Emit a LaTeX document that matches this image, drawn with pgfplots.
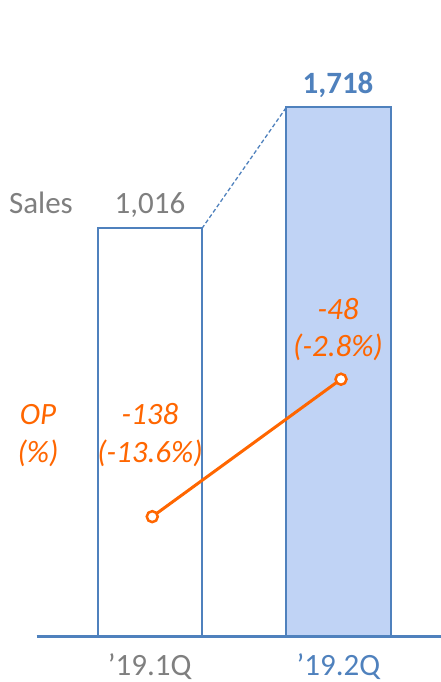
\documentclass[border=0pt]{standalone}
\usepackage{fontspec}
\setmainfont{Carlito}
\usepackage{pgfplots}
\pgfplotsset{compat=1.18}
\definecolor{barblue}{RGB}{79,129,189}
\definecolor{barfill}{RGB}{192,211,245}
\definecolor{txtgray}{RGB}{127,127,127}
\definecolor{opor}{RGB}{255,102,0}
\newcommand{\bigfs}{\fontsize{31bp}{37bp}\selectfont}
\begin{document}
\begin{tikzpicture}
\path[use as bounding box] (0,0) rectangle (441bp,682bp);
% Sales bars
\begin{axis}[
  scale only axis, width=404.3bp, height=636.5bp,
  at={(36.7bp,45.5bp)}, anchor=south west,
  xmin=-0.599, xmax=1.543, ymin=-1351, ymax=2341,
  axis x line*=bottom, axis y line=none,
  x axis line style={draw=barblue, line width=3bp},
  xtick={0,1}, major tick length=0pt,
  xticklabels={\textcolor{txtgray}{’19.1Q}, \textcolor{barblue}{’19.2Q}},
  xticklabel style={font=\bigfs, anchor=base, yshift=-38.5bp, inner sep=0pt},
  clip=false,
]
\addplot[draw=barblue, line width=2bp, fill=white] coordinates {(-0.2766,-1351) (-0.2766,1016) (0.2766,1016) (0.2766,-1351)} -- cycle;
\addplot[draw=barblue, line width=2bp, fill=barfill] coordinates {(0.7234,-1351) (0.7234,1718) (1.2766,1718) (1.2766,-1351)} -- cycle;
\addplot[draw=barblue, line width=1.3bp, dash pattern=on 4bp off 2.5bp] coordinates {(0.2766,1016) (0.7234,1718)};
\end{axis}
% OP line
\begin{axis}[
  scale only axis, width=404.3bp, height=636.5bp,
  at={(36.7bp,45.5bp)}, anchor=south west,
  xmin=-0.599, xmax=1.543, ymin=-216.5, ymax=200.4,
  hide axis, clip=false,
]
\addplot[draw=opor, line width=3bp, mark=*, mark size=5.5bp,
  mark options={fill=white, draw=opor, line width=2.5bp}, xshift=2.5bp] coordinates {(0,-138) (1,-48)};
\end{axis}
% labels
\node[anchor=base, text=txtgray, font=\bigfs] at (41bp,468.7bp) {Sales};
\node[anchor=base, text=txtgray, font=\bigfs] at (150bp,468.7bp) {1,016};
\node[anchor=base, text=barblue, font=\bigfs\bfseries] at (338bp,588.7bp) {1,718};
\node[anchor=base, text=opor, font=\bigfs\itshape] at (38bp,257bp) {OP};
\node[anchor=base, text=opor, font=\bigfs\itshape] at (38bp,219bp) {(\%)};
\node[anchor=base, text=opor, font=\bigfs\itshape] at (150bp,257bp) {-138};
\node[anchor=base, text=opor, font=\bigfs\itshape] at (150bp,219bp) {(-13.6\%)};
\node[anchor=base, text=opor, font=\bigfs\itshape] at (338bp,362bp) {-48};
\node[anchor=base, text=opor, font=\bigfs\itshape] at (338bp,325.3bp) {(-2.8\%)};
\end{tikzpicture}
\end{document}
